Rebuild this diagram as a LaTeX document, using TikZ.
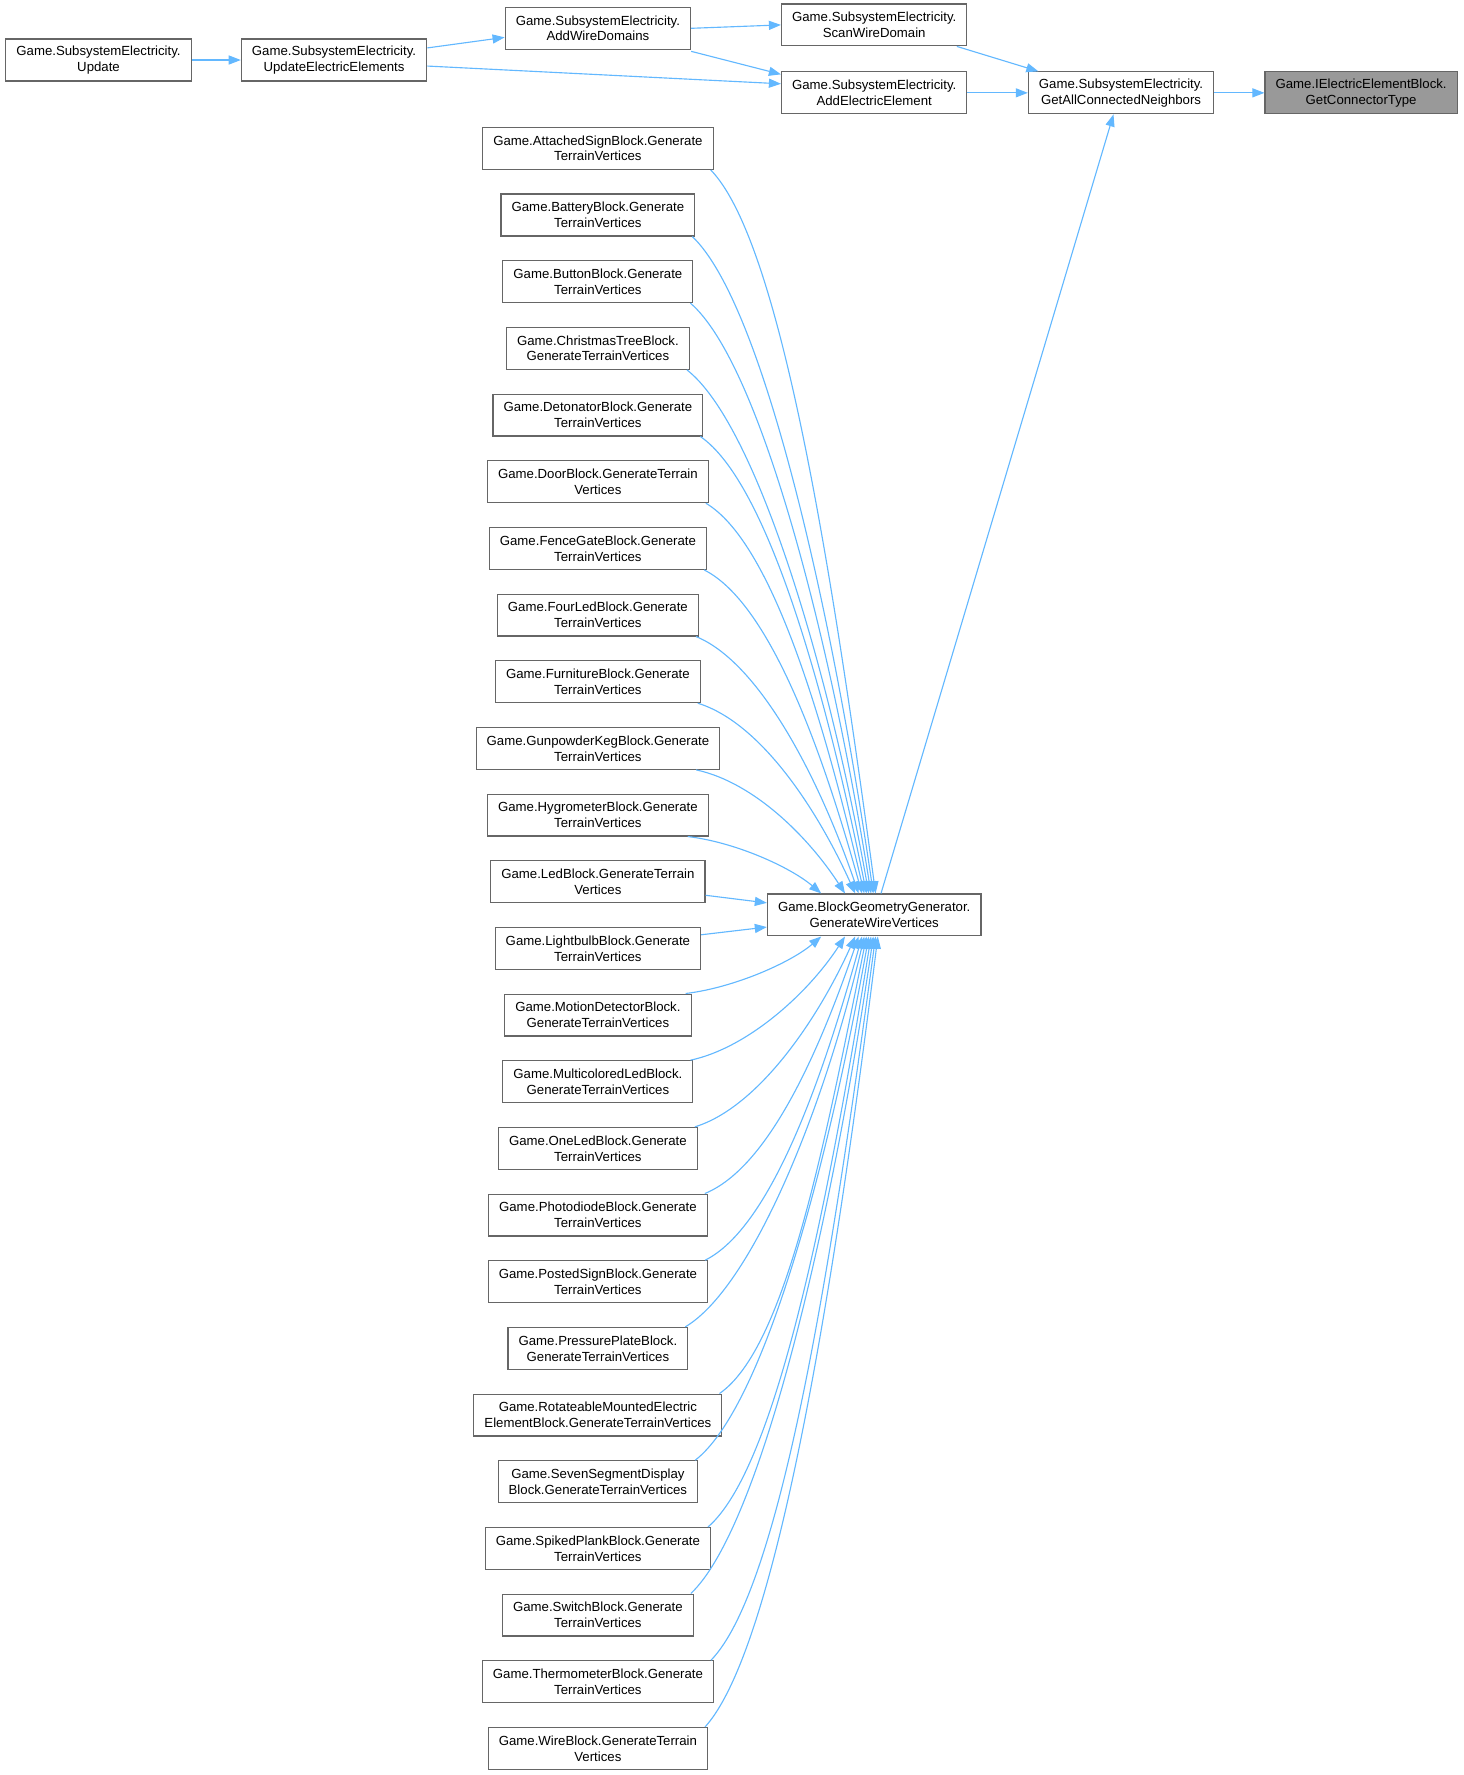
\documentclass[tikz,border=0pt]{standalone}
\usepackage{fontspec}
\setmainfont{Liberation Sans}
\usetikzlibrary{arrows.meta}
\definecolor{edgeblue}{HTML}{63B8FF}
\definecolor{boxgray}{HTML}{666666}
\definecolor{focusgray}{HTML}{999999}
\tikzset{
  fn/.style={draw=boxgray, line width=0.75pt, fill=white, align=center,
    font=\fontsize{8.75}{10.5}\selectfont, inner xsep=7pt, inner ysep=2pt,
    minimum height=27.75pt},
  call/.style={draw=edgeblue, line width=0.75pt, -{Triangle[length=8pt,width=6pt]}},
}
\begin{document}
\begin{tikzpicture}[x=0.75pt, y=-0.75pt, node distance=44.156pt]
                \useasboundingbox (0,0) rectangle (1292,1567.5);

                \node[fn] (upd) at (87,53) {Game.SubsystemElectricity.\\Update};
                \node[fn] (uee) at (295,53) {Game.SubsystemElectricity.\\UpdateElectricElements};
                \node[fn] (awd) at (528,25) {Game.SubsystemElectricity.\\AddWireDomains};
                \node[fn] (swd) at (772,22) {Game.SubsystemElectricity.\\ScanWireDomain};
                \node[fn] (aee) at (772,82) {Game.SubsystemElectricity.\\AddElectricElement};
                \node[fn] (gacn) at (990,82) {Game.SubsystemElectricity.\\GetAllConnectedNeighbors};
                \node[fn, fill=focusgray] (gct) at (1202,82) {Game.IElectricElementBlock.\\GetConnectorType};
                \node[fn] (gwv) at (772,808) {Game.BlockGeometryGenerator.\\GenerateWireVertices};

                \node[fn] (b1) at (528,131) {Game.AttachedSignBlock.Generate\\TerrainVertices};
                \node[fn] (b2) [below of=b1] {Game.BatteryBlock.Generate\\TerrainVertices};
                \node[fn] (b3) [below of=b2] {Game.ButtonBlock.Generate\\TerrainVertices};
                \node[fn] (b4) [below of=b3] {Game.ChristmasTreeBlock.\\GenerateTerrainVertices};
                \node[fn] (b5) [below of=b4] {Game.DetonatorBlock.Generate\\TerrainVertices};
                \node[fn] (b6) [below of=b5] {Game.DoorBlock.GenerateTerrain\\Vertices};
                \node[fn] (b7) [below of=b6] {Game.FenceGateBlock.Generate\\TerrainVertices};
                \node[fn] (b8) [below of=b7] {Game.FourLedBlock.Generate\\TerrainVertices};
                \node[fn] (b9) [below of=b8] {Game.FurnitureBlock.Generate\\TerrainVertices};
                \node[fn] (b10) [below of=b9] {Game.GunpowderKegBlock.Generate\\TerrainVertices};
                \node[fn] (b11) [below of=b10] {Game.HygrometerBlock.Generate\\TerrainVertices};
                \node[fn] (b12) [below of=b11] {Game.LedBlock.GenerateTerrain\\Vertices};
                \node[fn] (b13) [below of=b12] {Game.LightbulbBlock.Generate\\TerrainVertices};
                \node[fn] (b14) [below of=b13] {Game.MotionDetectorBlock.\\GenerateTerrainVertices};
                \node[fn] (b15) [below of=b14] {Game.MulticoloredLedBlock.\\GenerateTerrainVertices};
                \node[fn] (b16) [below of=b15] {Game.OneLedBlock.Generate\\TerrainVertices};
                \node[fn] (b17) [below of=b16] {Game.PhotodiodeBlock.Generate\\TerrainVertices};
                \node[fn] (b18) [below of=b17] {Game.PostedSignBlock.Generate\\TerrainVertices};
                \node[fn] (b19) [below of=b18] {Game.PressurePlateBlock.\\GenerateTerrainVertices};
                \node[fn] (b20) [below of=b19] {Game.RotateableMountedElectric\\ElementBlock.GenerateTerrainVertices};
                \node[fn] (b21) [below of=b20] {Game.SevenSegmentDisplay\\Block.GenerateTerrainVertices};
                \node[fn] (b22) [below of=b21] {Game.SpikedPlankBlock.Generate\\TerrainVertices};
                \node[fn] (b23) [below of=b22] {Game.SwitchBlock.Generate\\TerrainVertices};
                \node[fn] (b24) [below of=b23] {Game.ThermometerBlock.Generate\\TerrainVertices};
                \node[fn] (b25) [below of=b24] {Game.WireBlock.GenerateTerrain\\Vertices};

                \draw[call] (upd) -- (uee);
                \draw[call] ([yshift=8pt]uee.east) -- ([yshift=-6pt]awd.west);
                \draw[call] ([yshift=-4pt]uee.east) -- ([yshift=6pt]aee.west);
                \draw[call] (awd.east) -- (swd.west);
                \draw[call] ([yshift=-1pt]awd.south east) -- ([yshift=-2pt]aee.north west);
                \draw[call] ([xshift=-7pt]swd.south east) -- ([xshift=7pt]gacn.north west);
                \draw[call] (aee) -- (gacn);
                \draw[call] (gacn) -- (gct);
                \draw[call] ([xshift=4.5pt]gwv.north) -- ([xshift=-5pt]gacn.south);

                \foreach \i/\s/\ex in {1/2/775, 2/2/773, 3/2/771, 4/2/769, 5/2/767, 6/2/765,
                    7/2/763, 8/2/760, 9/2/757, 10/16/748, 11/14/727} {
                  \pgfmathsetmacro\dy{789-(149.5+58.875*(\i-1))}
                  \pgfmathsetmacro\dx{\ex-620}
                  \pgfmathsetmacro\ee{(\ex-679)*0.75}
                  \draw[call] ([xshift=-\s]b\i.south east) .. controls +(0.4*\dx,0.1*\dy)
                    and +(-0.25*\dx,-0.45*\dy) .. ([xshift=\ee]gwv.north west);
                }
                \draw[call] ([yshift=-9pt]b12.east) -- ([yshift=8pt]gwv.west);
                \draw[call] ([yshift=9pt]b13.east) -- ([yshift=-8pt]gwv.west);
                \foreach \i/\s/\ex in {14/4/727, 15/2/748, 16/2/757, 17/2/760, 18/2/763, 19/2/765,
                    20/2/767, 21/2/769, 22/2/771, 23/2/773, 24/2/775, 25/2/777} {
                  \pgfmathsetmacro\dy{112.5+58.875*(\i-1)-827}
                  \pgfmathsetmacro\dx{\ex-620}
                  \pgfmathsetmacro\ee{(\ex-679)*0.75}
                  \draw[call] ([xshift=-\s]b\i.north east) .. controls +(0.4*\dx,-0.1*\dy)
                    and +(-0.25*\dx,0.45*\dy) .. ([xshift=\ee]gwv.south west);
                }
            \end{tikzpicture}
\end{document}
